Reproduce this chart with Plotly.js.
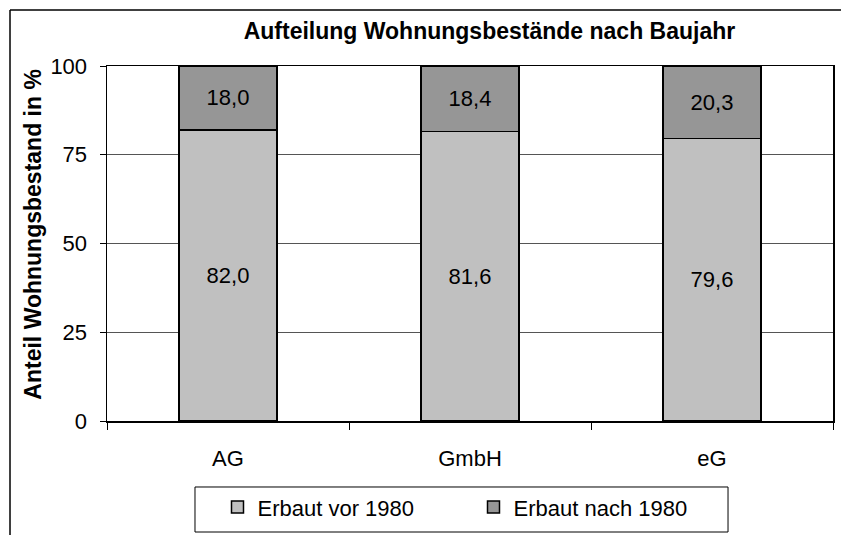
<!DOCTYPE html>
<html>
<head>
<meta charset="utf-8">
<script src="https://cdn.plot.ly/plotly-3.0.1.min.js"></script>
<style>html,body{margin:0;padding:0;background:#fff;}#chart{width:841px;height:535px;}</style>
</head>
<body>
<div id="chart"></div>
<script>
const categories = ["AG", "GmbH", "eG"];
const vor1980 = [82.0, 81.6, 79.6];
const nach1980 = [18.0, 18.4, 20.3];
const seriesNames = ["Erbaut vor 1980", "Erbaut nach 1980"];
const yTicks = [0, 25, 50, 75, 100];

const font = "Liberation Sans, Arial, sans-serif";
const common = {
  type: "bar",
  x: categories,
  texttemplate: "%{y:.1f}",
  textposition: "inside",
  insidetextanchor: "middle",
  textangle: 0,
  textfont: {family: font, size: 22, color: "#000"},
  hoverinfo: "skip"
};
const traces = [
  Object.assign({}, common, {name: seriesNames[0], y: vor1980,
    marker: {color: "#c0c0c0", line: {color: "#000", width: 1.5}}}),
  Object.assign({}, common, {name: seriesNames[1], y: nach1980,
    marker: {color: "#969696", line: {color: "#000", width: 1.5}}})
];

const layout = {
  width: 841, height: 535,
  margin: {l: 107, r: 8, t: 66, b: 114, autoexpand: false},
  paper_bgcolor: "#fff", plot_bgcolor: "#fff",
  separators: ",.",
  barmode: "stack",
  bargap: 0.595,
  font: {family: font, size: 22, color: "#000"},
  title: {text: "<b>Aufteilung Wohnungsbestände nach Baujahr</b>",
    font: {family: font, size: 23, color: "#000"},
    x: 0.582, xanchor: "center", y: 0.942, yanchor: "middle", xref: "container"},
  xaxis: {
    type: "category", automargin: false,
    tickson: "boundaries", ticks: "outside", ticklen: 7, tickcolor: "#000", tickwidth: 1,
    showline: true, linecolor: "#000", linewidth: 1.5, mirror: true,
    showgrid: false, ticklabelstandoff: 17,
    tickfont: {family: font, size: 22, color: "#000"}
  },
  yaxis: {
    range: [0, 100], tickvals: yTicks, ticktext: yTicks.map(String), automargin: false,
    ticks: "outside", ticklen: 6, tickcolor: "#000",
    showline: true, linecolor: "#000", linewidth: 1.5, mirror: true,
    showgrid: true, gridcolor: "#555", gridwidth: 1, zeroline: false,
    ticklabelstandoff: 8,
    tickfont: {family: font, size: 22, color: "#000"}
  },
  annotations: [
    {text: "<b>Anteil Wohnungsbestand in %</b>", xref: "paper", yref: "paper",
     x: -0.1019, y: 0.525, xanchor: "center", yanchor: "middle", textangle: -90,
     showarrow: false, font: {family: font, size: 23, color: "#000"}}
  ],
  showlegend: true,
  legend: {
    orientation: "h", x: 0.1522, xanchor: "left", y: -0.243, yanchor: "middle",
    borderwidth: 0, bgcolor: "rgba(0,0,0,0)",
    entrywidth: 211, traceorder: "normal",
    font: {family: font, size: 22, color: "#000"}
  },
  shapes: [
    {type: "line", xref: "paper", yref: "paper", x0: -0.1336, x1: 1.012, y0: 1.1577, y1: 1.1577, line: {color: "#000", width: 1.5}},
    {type: "line", xref: "paper", yref: "paper", x0: -0.1336, x1: -0.1336, y0: 1.1577, y1: -0.33, line: {color: "#000", width: 1.5}},
    {type: "rect", xref: "paper", yref: "paper", x0: 0.1212, x1: 0.8554, y0: -0.1859, y1: -0.3127, line: {color: "#000", width: 1}, fillcolor: "rgba(0,0,0,0)"}
  ]
};

Plotly.newPlot("chart", traces, layout, {staticPlot: true, displayModeBar: false});
</script>
</body>
</html>
